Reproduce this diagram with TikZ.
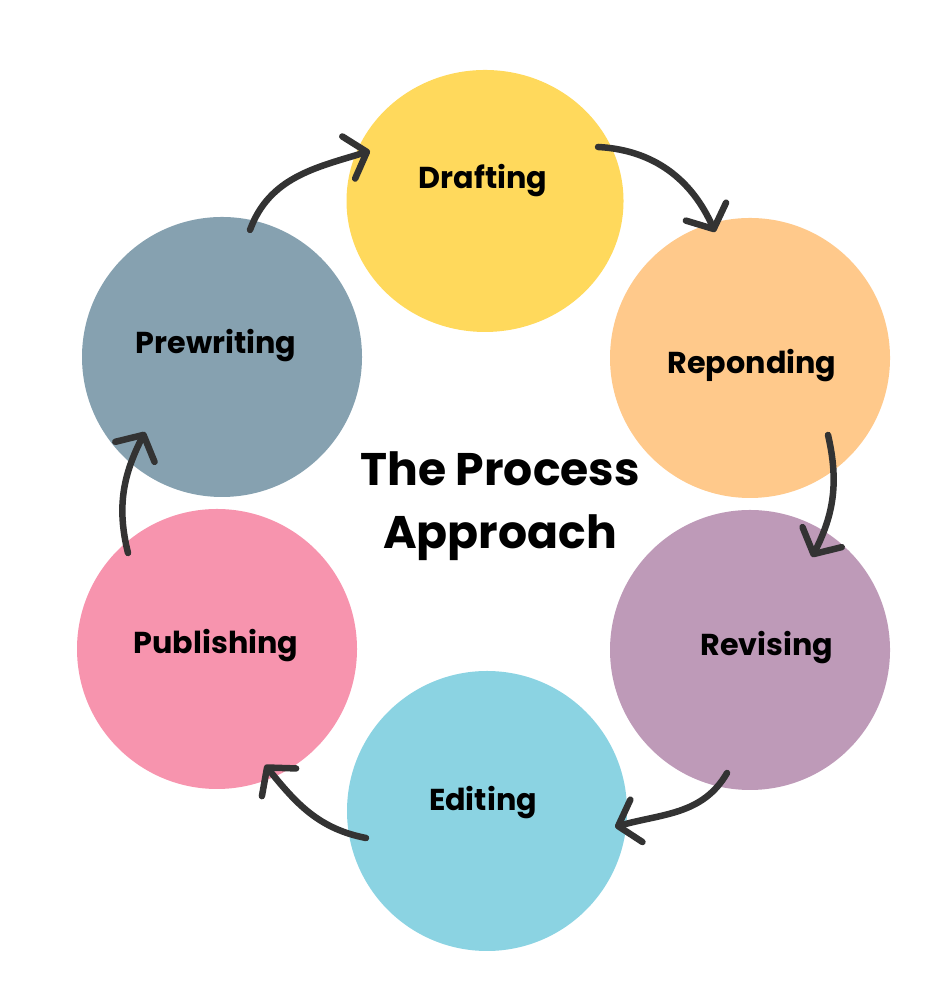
\documentclass[tikz,border=0pt]{standalone}
\usepackage{fontspec}
\setmainfont{Poppins}
\usepackage{tikz}
\usetikzlibrary{positioning,calc,shapes,arrows.meta}
\definecolor{draftc}{HTML}{FFD95C}
\definecolor{respc}{HTML}{FFC98B}
\definecolor{revc}{HTML}{BE9AB8}
\definecolor{editc}{HTML}{8BD3E2}
\definecolor{pubc}{HTML}{F794AE}
\definecolor{prec}{HTML}{86A1B0}
\definecolor{arrowc}{HTML}{333333}
\tikzset{
  blob/.style  = {ellipse, draw=none, inner sep=0pt, minimum width=2.8cm, minimum height=2.8cm},
  step label/.style = {font=\bfseries\fontsize{8.6}{10}\selectfont, text=black},
  title/.style = {font=\bfseries\fontsize{13}{18}\selectfont, align=center, text=black},
  flow/.style  = {-{Straight Barb[length=1.9mm, width=4.4mm, round]}, draw=arrowc,
                  line width=0.65mm, line cap=round}
}
\begin{document}
\begin{tikzpicture}
    \useasboundingbox (0,0) rectangle (9.36,10);
    % the six steps
    \node[blob, fill=draftc, minimum width=2.77cm, minimum height=2.62cm] (draft) at (4.85,7.99) {};
    \node[blob, fill=respc] (resp) at (7.50,6.42) {};
    \node[blob, fill=revc]  (rev)  at (7.50,3.50) {};
    \node[blob, fill=editc] (edit) at (4.87,1.89) {};
    \node[blob, fill=pubc]  (pub)  at (2.17,3.51) {};
    \node[blob, fill=prec]  (pre)  at (2.22,6.43) {};
    \node[step label] (draftlbl) at (4.83,8.19) {Drafting};
    \node[step label] (resplbl)  at (7.52,6.34) {Reponding};
    \node[step label] (revlbl)   at (7.67,3.52) {Revising};
    \node[step label] (editlbl)  at (4.83,1.97) {Editing};
    \node[step label] (publbl)   at (2.16,3.54) {Publishing};
    \node[step label] (prelbl)   at (2.16,6.54) {Prewriting};
    \node[title] (heading) at (5.00,4.94) {The Process\\Approach};
    % arrows round the cycle
    \draw[flow] ($(pre)+(0.28,1.27)$) to[out=70, in=197] ($(draft)+(-1.15,0.50)$);
    \draw[flow] ($(draft)+(1.13,0.54)$) to[out=-3, in=114] ($(resp)+(-0.35,1.26)$);
    \draw[flow] ($(resp)+(0.78,-0.77)$) to[out=-77, in=63] ($(rev)+(0.62,0.93)$);
    \draw[flow] ($(rev)+(-0.23,-1.23)$) to[out=-120, in=16] ($(edit)+(1.28,-0.16)$);
    \draw[flow] ($(edit)+(-1.21,-0.27)$) to[out=169, in=-51] ($(pub)+(0.48,-1.16)$);
    \draw[flow] ($(pub)+(-0.89,0.96)$) to[out=104, in=243] ($(pre)+(-0.77,-0.75)$);
\end{tikzpicture}
\end{document}
